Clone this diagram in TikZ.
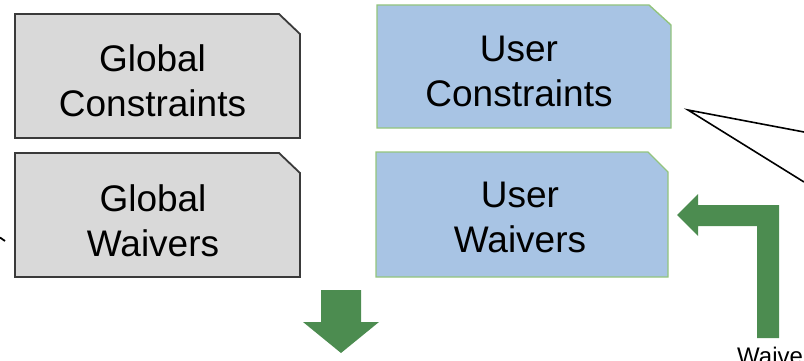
\documentclass[tikz,border=0pt]{standalone}
\usepackage{fontspec}
\setmainfont{Liberation Sans}
\definecolor{boxgray}{HTML}{D9D9D9}
\definecolor{graydraw}{HTML}{3A3A3A}
\definecolor{boxblue}{HTML}{A8C4E4}
\definecolor{boxgreen}{HTML}{93C47D}
\definecolor{arrowgreen}{HTML}{4C8C50}
\begin{document}
\begin{tikzpicture}[x=1pt,y=-1pt,
  graybox/.style={fill=boxgray,draw=graydraw,line width=1.8pt,line join=miter},
  bluebox/.style={fill=boxblue,draw=boxgreen,line width=1.4pt,line join=miter},
  boxtext/.style={font=\fontsize{37}{45}\selectfont,align=center,inner sep=0pt,text=black},
  smalltext/.style={font=\fontsize{24}{28}\selectfont,inner sep=0pt,text=black},
  greenarrow/.style={fill=arrowgreen,draw=none},
  thinline/.style={draw=black,line width=1.6pt}]
\useasboundingbox (0,0) rectangle (804,361);
% boxes
\draw[graybox] (15,14) -- (279,14) -- (300,34) -- (300,138) -- (15,138) -- cycle;
\draw[graybox] (15,153) -- (279,153) -- (300,173) -- (300,277) -- (15,277) -- cycle;
\draw[bluebox] (377,5) -- (649,5) -- (671,25) -- (671,128) -- (377,128) -- cycle;
\draw[bluebox] (376,152) -- (648,152) -- (668,172) -- (668,277) -- (376,277) -- cycle;
% texts
\node[boxtext] (gc) at (152.5,81) {Global\\Constraints};
\node[boxtext] (gw) at (153,221) {Global\\Waivers};
\node[boxtext] (uc) at (519,71) {User\\Constraints};
\node[boxtext] (uw) at (520,217) {User\\Waivers};
\node[smalltext,anchor=base west] (wv) at (737,364) {Waive};
% green arrows
\fill[greenarrow] (321,290) -- (361,290) -- (361,322) -- (379,322) -- (341,353) -- (303,322) -- (321,322) -- cycle;
\fill[greenarrow] (779,338) -- (779,205) -- (698,205) -- (698,194) -- (677,215) -- (698,236) -- (698,226) -- (757,226) -- (757,338) -- cycle;
% callout lines
\coordinate (apex) at (688,110);
\coordinate (endA) at (804,132);
\coordinate (endB) at (804,182);
\draw[thinline] (endA) -- (apex) -- (endB);
\coordinate (tickA) at (0,237.5);
\coordinate (tickB) at (5,241);
\draw[thinline,line width=1.8pt] (tickA) -- (tickB);
\end{tikzpicture}
\end{document}
